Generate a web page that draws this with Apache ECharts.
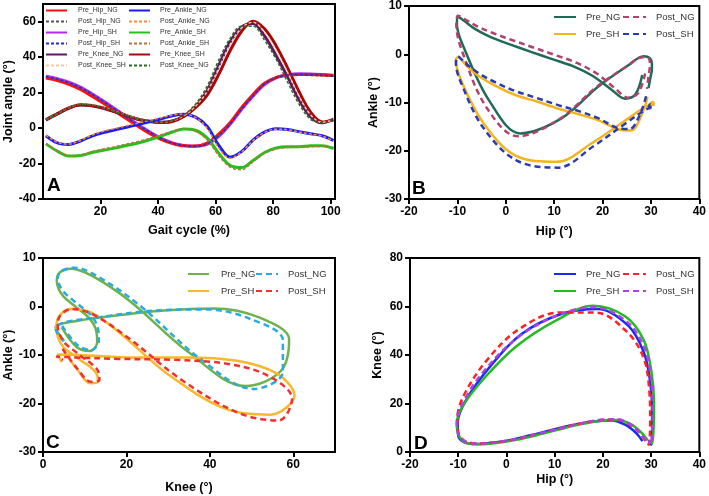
<!DOCTYPE html>
<html>
<head>
<meta charset="utf-8">
<title>Joint angles</title>
<script src="https://cdn.jsdelivr.net/npm/echarts@6.0.0/dist/echarts.min.js"></script>
<style>
  html, body { margin: 0; padding: 0; background: #fff; }
  #chart { width: 709px; height: 496px; }
</style>
</head>
<body>
<div id="chart"></div>
<script>
// gait cycle samples (%)
var gait = [1, 5, 9, 13, 17, 21, 25, 29, 33, 37, 41, 45, 49, 53, 57, 61, 65, 69, 73, 77, 81, 85, 89, 93, 97, 101];

// hip angle (deg)
var hipPreNG  = [28.2, 26.8, 24.7, 21.8, 18, 14, 9.6, 5.2, 1, -3, -6.3, -8.7, -10, -10.1, -8.5, -3.5, 3, 11.5, 19, 25.3, 28.5, 29.8, 30.2, 30.2, 30, 29.5];
var hipPostNG = [28.8, 27.4, 25.3, 22.5, 18.8, 14.7, 10.3, 6, 1.7, -2.4, -5.9, -8.5, -9.9, -10.2, -8.8, -4, 2.5, 11, 18.5, 25, 28.4, 29.6, 29.8, 29.7, 29.5, 29.2];
var hipPreSH  = [29.3, 27.9, 25.9, 23.1, 19.4, 15.3, 10.9, 6.4, 2.1, -2, -5.6, -8.3, -9.8, -10.3, -9.2, -4.8, 2, 10.5, 18, 24.6, 28.4, 30, 30.6, 30.5, 30.2, 29.8];
var hipPostSH = [29, 27.6, 25.6, 22.9, 19.2, 15.1, 10.7, 6.2, 1.9, -2.2, -5.8, -8.4, -9.9, -10.3, -9, -4.6, 2.2, 10.7, 18.2, 24.8, 28.4, 29.9, 30.3, 30.2, 29.9, 29.5];

// knee angle (deg)
var kneePreNG  = [4.5, 8, 11.2, 13, 12.6, 11.2, 9.2, 7, 5, 3.8, 3.3, 4, 6.8, 12, 21, 35, 48.5, 57, 59, 52, 41, 29, 16, 6.5, 3, 5];
var kneePostNG = [4.6, 8.3, 11.6, 13.4, 13, 11.5, 9.4, 7.2, 5.2, 4, 3.5, 4.4, 7.5, 13.5, 23.5, 38, 50.5, 57.5, 57.5, 49.5, 39, 26, 13.5, 5, 3, 5];
var kneePreSH  = [4.8, 8.2, 11.4, 13.2, 12.8, 11.4, 9.3, 7, 5, 3.7, 3.2, 3.7, 6.5, 11.5, 18.5, 30, 43.5, 54.5, 60.3, 56, 46.5, 34, 20.5, 9, 3.5, 4.5];
var kneePostSH = [4.7, 8.2, 11.5, 13.5, 13.2, 11.6, 9.5, 7.3, 5.3, 4, 3.5, 4.2, 7, 12.3, 20.5, 33.5, 47, 56.5, 59.7, 54, 44, 31.5, 18, 7.5, 3.2, 4.8];

// ankle angle (deg)
var ankPreNG  = [-4.3, -8.3, -9.2, -7.3, -4.5, -2.5, -1, 0.5, 2, 3.5, 5.2, 7, 7.8, 6.2, 1, -9.5, -16.4, -13.3, -6.8, -2.3, -0.4, -0.8, -2, -3.2, -4.3, -7];
var ankPostNG = [-4, -8, -9, -7, -4, -1.8, -0.2, 1.3, 2.8, 4.3, 5.8, 7.3, 8, 6, 0, -11, -17, -13.5, -7, -2.5, -0.6, -0.9, -2.2, -3.3, -4.5, -7.2];
var ankPreSH  = [-8.9, -13, -15.8, -15.5, -13.8, -12.5, -11.3, -9.8, -8.5, -6.6, -4.5, -2.2, -0.5, -1.2, -5.5, -14, -21, -22.3, -18.3, -13.8, -11.2, -10.5, -10.5, -10, -9.9, -11.5];
var ankPostSH = [-8.7, -12.8, -15.5, -15.2, -13.3, -11.8, -10.5, -9, -7.6, -5.8, -3.8, -1.8, -0.5, -1.8, -6.5, -15.3, -22, -23.5, -19, -14.3, -11.8, -11, -10.8, -10.5, -10.3, -11];

// tick labels
var ticksGait = [20, 40, 60, 80, 100];
var ticksJoint = [-40, -20, 0, 20, 40, 60];
var ticksHip = [-20, -10, 0, 10, 20, 30, 40];
var ticksAnkle = [-30, -20, -10, 0, 10];
var ticksKneeX = [0, 20, 40, 60];
var ticksKneeY = [0, 20, 40, 60, 80];

var FONT = 'Liberation Sans, Arial, sans-serif';
var chart = echarts.init(document.getElementById('chart'));

function pairs(xs, ys) {
  return xs.map(function (v, i) { return [v, ys[i]]; });
}

function line(name, g, data, color, width, dash) {
  return {
    name: name, type: 'line', xAxisIndex: g, yAxisIndex: g,
    data: data, smooth: 0.35, symbol: 'none', showSymbol: false,
    lineStyle: { color: color, width: width, type: dash || 'solid' },
    itemStyle: { color: color },
    z: dash ? 3 : 2
  };
}

function axis(g, min, max, ticks, name, gap, vertical) {
  return {
    type: 'value', gridIndex: g, min: min, max: max,
    name: name, nameLocation: 'middle', nameGap: gap, nameRotate: vertical ? 90 : 0,
    nameTextStyle: { fontFamily: FONT, fontWeight: 'bold', fontSize: 12.5, color: '#000' },
    axisLine: { show: true, onZero: false, lineStyle: { color: '#000', width: 2 } },
    axisTick: { show: true, length: 5, customValues: ticks, lineStyle: { color: '#000', width: 2 } },
    axisLabel: { customValues: ticks, fontFamily: FONT, fontWeight: 'bold', fontSize: 12, color: '#000', margin: 7 },
    splitLine: { show: false }
  };
}

// one legend per entry so each can sit exactly where the original puts it
function legendItem(name, left, top, size, pad, w) {
  return {
    data: [name], left: left, top: top, padding: 0,
    itemWidth: w, itemHeight: 8, selectedMode: false,
    itemStyle: { opacity: 0 },
    formatter: function (n) { return n.split(':')[1]; },
    textStyle: { fontFamily: FONT, fontSize: size, color: '#333', padding: [0, 0, 0, pad] }
  };
}

function gridBox(left, top, width, height) {
  return { left: left, top: top, width: width, height: height, show: true, borderColor: '#000', borderWidth: 2 };
}

var series = [
  // panel A
  line('A:Pre_Hip_SH', 0, pairs(gait, hipPreSH), '#b22cf0', 3),
  line('A:Pre_Hip_NG', 0, pairs(gait, hipPreNG), '#ff1010', 3),
  line('A:Pre_Knee_NG', 0, pairs(gait, kneePreNG), '#5e1a5c', 3),
  line('A:Pre_Knee_SH', 0, pairs(gait, kneePreSH), '#a40a0a', 3),
  line('A:Pre_Ankle_NG', 0, pairs(gait, ankPreNG), '#1a1aff', 3),
  line('A:Pre_Ankle_SH', 0, pairs(gait, ankPreSH), '#22c21a', 3),
  line('A:Post_Hip_NG', 0, pairs(gait, hipPostNG), '#555555', 1.5, [3, 2]),
  line('A:Post_Hip_SH', 0, pairs(gait, hipPostSH), '#2a2ad6', 1.5, [3, 2]),
  line('A:Post_Knee_SH', 0, pairs(gait, kneePostSH), '#f7c9a0', 1.5, [3, 2]),
  line('A:Post_Ankle_NG', 0, pairs(gait, ankPostNG), '#ff8a30', 1.5, [3, 2]),
  line('A:Post_Ankle_SH', 0, pairs(gait, ankPostSH), '#b8733a', 1.5, [3, 2]),
  line('A:Post_Knee_NG', 0, pairs(gait, kneePostNG), '#2a6b2a', 1.5, [3, 2]),
  // panel B: ankle vs hip
  line('B:Pre_NG', 1, pairs(hipPreNG, ankPreNG), '#1f6b55', 2.5),
  line('B:Post_NG', 1, pairs(hipPostNG, ankPostNG), '#b3416b', 2.5, [6, 4]),
  line('B:Pre_SH', 1, pairs(hipPreSH, ankPreSH), '#f2b520', 2.5),
  line('B:Post_SH', 1, pairs(hipPostSH, ankPostSH), '#2c3bb2', 2.5, [6, 4]),
  // panel C: ankle vs knee
  line('C:Pre_NG', 2, pairs(kneePreNG, ankPreNG), '#6db24a', 2.5),
  line('C:Post_NG', 2, pairs(kneePostNG, ankPostNG), '#2aa9e2', 2.5, [6, 4]),
  line('C:Pre_SH', 2, pairs(kneePreSH, ankPreSH), '#f6b82c', 2.5),
  line('C:Post_SH', 2, pairs(kneePostSH, ankPostSH), '#f23030', 2.5, [6, 4]),
  // panel D: knee vs hip
  line('D:Pre_NG', 3, pairs(hipPreNG, kneePreNG), '#1a2cf2', 2.5),
  line('D:Post_NG', 3, pairs(hipPostNG, kneePostNG), '#ff2020', 2.5, [6, 4]),
  line('D:Pre_SH', 3, pairs(hipPreSH, kneePreSH), '#22bb22', 2.5),
  line('D:Post_SH', 3, pairs(hipPostSH, kneePostSH), '#b040e2', 2.5, [6, 4])
];

var legends = [];
var colA1 = ['A:Pre_Hip_NG', 'A:Post_Hip_NG', 'A:Pre_Hip_SH', 'A:Post_Hip_SH', 'A:Pre_Knee_NG', 'A:Post_Knee_SH'];
var colA2 = ['A:Pre_Ankle_NG', 'A:Post_Ankle_NG', 'A:Pre_Ankle_SH', 'A:Post_Ankle_SH', 'A:Pre_Knee_SH', 'A:Post_Knee_NG'];
colA1.forEach(function (n, i) { legends.push(legendItem(n, 45, 7 + i * 11, 7, 6, 21)); });
colA2.forEach(function (n, i) { legends.push(legendItem(n, 128, 7 + i * 11, 7, 5, 21)); });
['B', 'D'].forEach(function (p) {
  var top = p === 'B' ? 12 : 269;
  legends.push(legendItem(p + ':Pre_NG', 553, top, 9.5, 5, 22));
  legends.push(legendItem(p + ':Post_NG', 622, top, 9.5, 5, 23));
  legends.push(legendItem(p + ':Pre_SH', 553, top + 17, 9.5, 5, 22));
  legends.push(legendItem(p + ':Post_SH', 622, top + 17, 9.5, 5, 23));
});
legends.push(legendItem('C:Pre_NG', 187, 269, 9.5, 7, 21));
legends.push(legendItem('C:Post_NG', 255, 269, 9.5, 5, 22));
legends.push(legendItem('C:Pre_SH', 187, 286, 9.5, 7, 21));
legends.push(legendItem('C:Post_SH', 255, 286, 9.5, 5, 22));

function letter(t, x, y) {
  return { type: 'text', left: x, top: y, z: 10, style: { text: t, font: 'bold 19px Liberation Sans', fill: '#000' } };
}

chart.setOption({
  animation: false,
  backgroundColor: '#fff',
  grid: [
    gridBox(43, 4, 292, 195),
    gridBox(409, 5, 292, 194),
    gridBox(43, 258, 292, 194),
    gridBox(410, 258, 292, 194)
  ],
  xAxis: [
    axis(0, 0, 101.5, ticksGait, 'Gait cycle (%)', 25),
    axis(1, -20, 40, ticksHip, 'Hip (\u00b0)', 26),
    axis(2, 0, 70, ticksKneeX, 'Knee (\u00b0)', 29),
    axis(3, -20, 40, ticksHip, 'Hip (\u00b0)', 21)
  ],
  yAxis: [
    axis(0, -40, 70, ticksJoint, 'Joint angle (\u00b0)', 26.5, true),
    axis(1, -30, 10, ticksAnkle, 'Ankle (\u00b0)', 29, true),
    axis(2, -30, 10, ticksAnkle, 'Ankle (\u00b0)', 26.5, true),
    axis(3, 0, 80, ticksKneeY, 'Knee (\u00b0)', 26, true)
  ],
  legend: legends,
  graphic: [letter('A', 47, 176), letter('B', 412, 179), letter('C', 46, 433), letter('D', 414, 434)],
  series: series
});
</script>
</body>
</html>
